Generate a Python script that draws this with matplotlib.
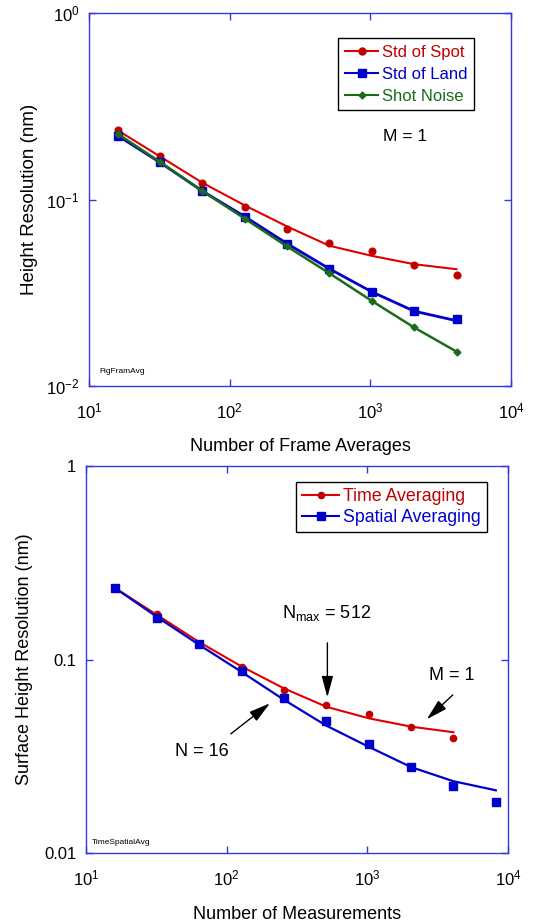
"""
Height resolution vs. averaging: frame averages (top) and time vs. spatial averaging (bottom)
"""
import matplotlib
matplotlib.use('Agg')
import matplotlib.pyplot as plt
from matplotlib.lines import Line2D
from matplotlib.ticker import FixedLocator, NullLocator, FixedFormatter

plt.rcParams['font.family'] = 'Liberation Sans'
plt.rcParams['mathtext.fontset'] = 'custom'
plt.rcParams['mathtext.rm'] = 'Liberation Sans'
plt.rcParams['mathtext.it'] = 'Liberation Sans:italic'

# --- top panel data ---
n_frames = [16, 32, 64, 128, 256, 512, 1024, 2048, 4096]
spot_pts = [0.235, 0.171, 0.122, 0.0914, 0.0696, 0.0583, 0.0528, 0.0448, 0.0394]
spot_fit = [0.235, 0.170, 0.123, 0.093, 0.0717, 0.0565, 0.0499, 0.0450, 0.0423]
land_pts = [0.220, 0.158, 0.111, 0.081, 0.058, 0.0423, 0.0318, 0.0253, 0.0228]
land_fit = [0.220, 0.158, 0.111, 0.081, 0.058, 0.0425, 0.0320, 0.0252, 0.0224]
shot_pts = [0.225, 0.159, 0.111, 0.079, 0.056, 0.0402, 0.0286, 0.0206, 0.0153]

# --- bottom panel data ---
n_meas = [16, 32, 64, 128, 256, 512, 1024, 2048, 4096, 8192]
time_pts = [0.235, 0.172, 0.121, 0.0911, 0.0696, 0.058, 0.0524, 0.0449, 0.0394]
time_fit = [0.235, 0.170, 0.123, 0.092, 0.0709, 0.0570, 0.0497, 0.0450, 0.0421]
spat_pts = [0.235, 0.163, 0.120, 0.0869, 0.0636, 0.048, 0.0365, 0.0279, 0.0222, 0.0184]
spat_fit = [0.235, 0.166, 0.119, 0.0862, 0.0619, 0.0455, 0.0354, 0.0278, 0.0235, 0.0211]

RED, RED_M = '#E00000', '#C00000'
BLUE = '#0000CC'
GREEN = '#1A6B1A'
SPINE = '#3838D8'

fig = plt.figure(figsize=(5.51, 9.22), dpi=100)
ax1 = fig.add_axes([0.1615, 0.5813, 0.766, 0.4046])
ax2 = fig.add_axes([0.156, 0.0748, 0.766, 0.4197])


def style_axes(ax, ylabels):
    ax.set_xscale('log')
    ax.set_yscale('log')
    ax.set_xlim(10, 1e4)
    ax.set_ylim(0.01, 1)
    ax.xaxis.set_major_locator(FixedLocator([10, 100, 1000, 10000]))
    ax.yaxis.set_major_locator(FixedLocator([0.01, 0.1, 1]))
    ax.xaxis.set_minor_locator(NullLocator())
    ax.yaxis.set_minor_locator(NullLocator())
    ax.xaxis.set_major_formatter(FixedFormatter(
        [r'$\mathregular{10^{1}}$', r'$\mathregular{10^{2}}$',
         r'$\mathregular{10^{3}}$', r'$\mathregular{10^{4}}$']))
    ax.yaxis.set_major_formatter(FixedFormatter(ylabels))
    for s in ax.spines.values():
        s.set_color(SPINE)
        s.set_linewidth(1.0)
    ax.tick_params(which='both', direction='in', top=True, right=True,
                   length=5, width=1, color=SPINE, labelsize=12)
    ax.tick_params(axis='x', pad=11)
    ax.tick_params(axis='y', pad=7)


# === top panel ===
ax1.plot(n_frames, spot_fit, '-', color=RED, lw=1.5)
ax1.plot(n_frames, spot_pts, 'o', color=RED_M, ms=4.8, ls='none')
ax1.plot(n_frames, land_fit, '-', color=BLUE, lw=2.0)
ax1.plot(n_frames, land_pts, 's', color=BLUE, ms=5.2, ls='none')
ax1.plot(n_frames, shot_pts, 'D-', color=GREEN, lw=1.8, ms=3.5)

style_axes(ax1, [r'$\mathregular{10^{-2}}$', r'$\mathregular{10^{-1}}$',
                 r'$\mathregular{10^{0}}$'])
ax1.set_xlabel('Number of Frame Averages', fontsize=13, labelpad=12)
ax1.set_ylabel('Height Resolution (nm)', fontsize=13.5, labelpad=6)

h1 = [Line2D([], [], color=RED, marker='o', ms=5, lw=1.5, mfc=RED_M, mec=RED_M),
      Line2D([], [], color=BLUE, marker='s', ms=5.5, lw=1.5),
      Line2D([], [], color=GREEN, marker='D', ms=3.5, lw=1.5)]
leg1 = ax1.legend(h1, ['Std of Spot', 'Std of Land', 'Shot Noise'],
                  loc='upper right', bbox_to_anchor=(0.912, 0.933),
                  fontsize=12, frameon=True, fancybox=False, edgecolor='black',
                  framealpha=1, handlelength=2.0, handletextpad=0.2,
                  labelspacing=0.42, borderpad=0.4, borderaxespad=0)
leg1.get_frame().set_linewidth(1.0)
for t, c in zip(leg1.get_texts(), [RED_M, BLUE, GREEN]):
    t.set_color(c)

ax1.text(0.749, 0.670, 'M = 1', transform=ax1.transAxes, fontsize=12.5,
         ha='center', va='center')
ax1.text(0.024, 0.038, 'FigFramAvg', transform=ax1.transAxes, fontsize=6,
         ha='left', va='center')

# === bottom panel ===
ax2.plot(n_meas[:len(time_fit)], time_fit, '-', color=RED, lw=1.5)
ax2.plot(n_meas[:len(time_pts)], time_pts, 'o', color=RED_M, ms=4.5, ls='none')
ax2.plot(n_meas, spat_fit, '-', color=BLUE, lw=1.6)
ax2.plot(n_meas, spat_pts, 's', color=BLUE, ms=6, ls='none')

style_axes(ax2, ['0.01', '0.1', '1'])
ax2.set_xlabel('Number of Measurements', fontsize=13, labelpad=13)
ax2.set_ylabel('Surface Height Resolution (nm)', fontsize=13, labelpad=8)

h2 = [Line2D([], [], color=RED, marker='o', ms=4.5, lw=1.5, mfc=RED_M, mec=RED_M),
      Line2D([], [], color=BLUE, marker='s', ms=5.5, lw=1.5)]
leg2 = ax2.legend(h2, ['Time Averaging', 'Spatial Averaging'],
                  loc='upper right', bbox_to_anchor=(0.950, 0.960),
                  fontsize=12.8, frameon=True, fancybox=False, edgecolor='black',
                  framealpha=1, handlelength=2.1, handletextpad=0.2,
                  labelspacing=0.25, borderpad=0.35, borderaxespad=0)
leg2.get_frame().set_linewidth(1.0)
for t, c in zip(leg2.get_texts(), [RED_M, BLUE]):
    t.set_color(c)

arrow = dict(arrowstyle='-|>,head_length=1.3,head_width=0.35', color='black',
             lw=1.0, shrinkA=0, shrinkB=0)
ax2.annotate('', xy=(520, 0.0638), xytext=(520, 0.122), arrowprops=arrow)
ax2.text(516, 0.174, r'$\mathregular{N_{max}}$ = 512', fontsize=13,
         ha='center', va='center')
ax2.annotate('', xy=(2643, 0.0491), xytext=(4046, 0.0656), arrowprops=arrow)
ax2.text(3990, 0.0832, 'M = 1', fontsize=13, ha='center', va='center')
ax2.annotate('', xy=(203, 0.0594), xytext=(107, 0.0413), arrowprops=arrow)
ax2.text(66.7, 0.0333, 'N = 16', fontsize=13, ha='center', va='center')
ax2.text(0.014, 0.028, 'TimeSpatialAvg', transform=ax2.transAxes, fontsize=6,
         ha='left', va='center')

plt.savefig('out.png', dpi=100, facecolor='white')
plt.close()
